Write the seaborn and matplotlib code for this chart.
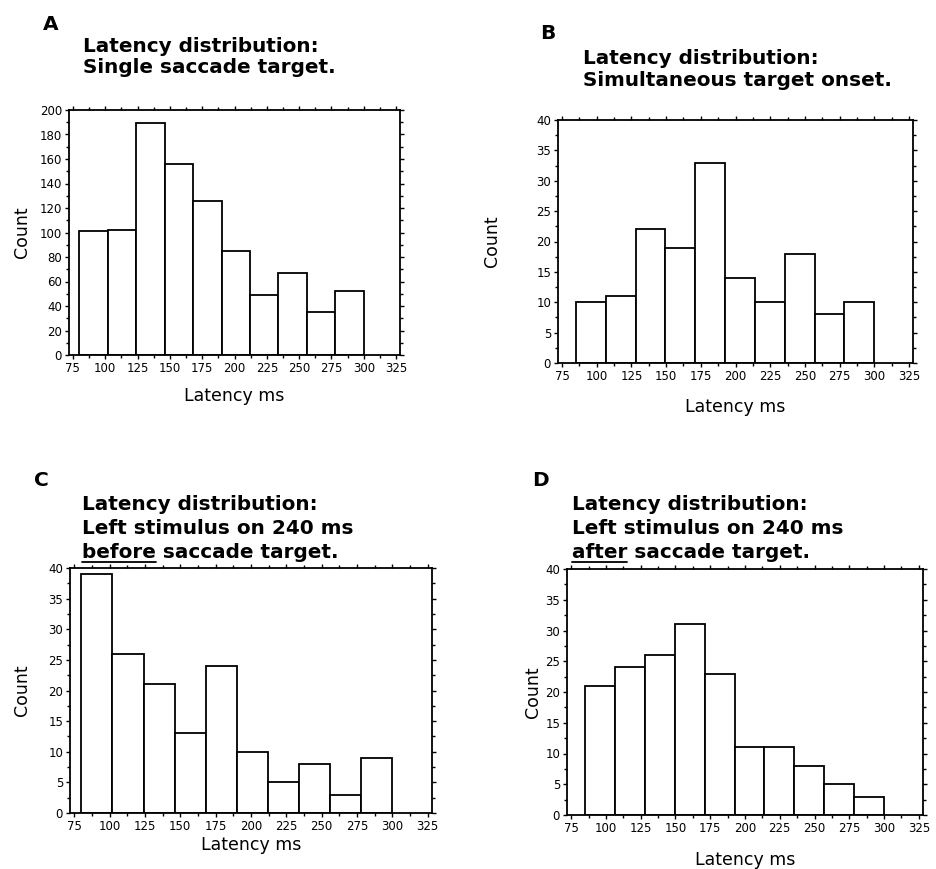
import numpy as np
import pandas as pd
import matplotlib
matplotlib.use("Agg")
import matplotlib.pyplot as plt
import seaborn as sns
from matplotlib.ticker import MultipleLocator
from matplotlib.lines import Line2D

# ---------------- data ----------------
edges_A = [80, 102, 124, 146, 168, 190, 212, 234, 256, 278, 300]
counts_A = [101, 102, 189, 156, 126, 85, 49, 67, 35, 52]

edges_B = [85, 106.5, 128, 149.5, 171, 192.5, 214, 235.5, 257, 278.5, 300]
counts_B = [10, 11, 22, 19, 33, 14, 10, 18, 8, 10]

edges_C = [80, 102, 124, 146, 168, 190, 212, 234, 256, 278, 300]
counts_C = [39, 26, 21, 13, 24, 10, 5, 8, 3, 9]

edges_D = [85, 106.5, 128, 149.5, 171, 192.5, 214, 235.5, 257, 278.5, 300]
counts_D = [21, 24, 26, 31, 23, 11, 11, 8, 5, 3]

x_ticks = [75, 100, 125, 150, 175, 200, 225, 250, 275, 300, 325]
letters = ["A", "B", "C", "D"]
titles = [
    ["Latency distribution:", "Single saccade target."],
    ["Latency distribution:", "Simultaneous target onset."],
    ["Latency distribution:", "Left stimulus on 240 ms", "before saccade target."],
    ["Latency distribution:", "Left stimulus on 240 ms", "after saccade target."],
]
underlined = [None, None, "before", "after"]
x_label = "Latency ms"
y_label = "Count"

# ---------------- layout (pixels) ----------------
W, H = 936, 869
sns.set_style("ticks")
plt.rcParams["font.family"] = ["DejaVu Sans"]
plt.rcParams["text.color"] = "black"
plt.rcParams["axes.labelcolor"] = "black"
plt.rcParams["xtick.color"] = "black"
plt.rcParams["ytick.color"] = "black"
plt.rcParams["axes.edgecolor"] = "black"

fig = plt.figure(figsize=(W / 100, H / 100), dpi=100)
fig.patch.set_facecolor("white")

axes_px = [(69, 110, 400, 355), (558, 120, 913, 363),
           (70, 568, 432, 813), (567, 569, 923, 815)]
ymax = [200, 40, 40, 40]
ymaj = [20, 5, 5, 5]
xlabel_off = [41, 44, 32, 45]
ylabel_off = [47, 66, 48, 34]
letter_pos = [(43, 30), (540, 39), (34, 486), (532, 486)]
title_x = [83, 583, 82, 572]
title_base = [[52, 73], [64, 86], [510, 534, 558], [510, 534, 558]]

data_sets = [(edges_A, counts_A), (edges_B, counts_B),
             (edges_C, counts_C), (edges_D, counts_D)]


def fx(x):
    return x / W


def fy(y):
    return 1 - y / H


for i, ((edges, counts), (x0, yt, x1, yb)) in enumerate(zip(data_sets, axes_px)):
    ax = fig.add_axes([fx(x0), fy(yb), (x1 - x0) / W, (yb - yt) / H])
    centers = [(a + b) / 2 for a, b in zip(edges[:-1], edges[1:])]
    df = pd.DataFrame({"latency": centers, "count": counts})
    sns.histplot(data=df, x="latency", weights="count", bins=edges, ax=ax,
                 color="white", edgecolor="black", linewidth=1.3, alpha=1.0)
    ax.set_xlim(72, 328)
    ax.set_ylim(0, ymax[i])
    ax.set_xticks(x_ticks)
    ax.xaxis.set_minor_locator(MultipleLocator(12.5))
    ax.yaxis.set_major_locator(MultipleLocator(ymaj[i]))
    ax.yaxis.set_minor_locator(MultipleLocator(ymaj[i] / 2))
    ax.tick_params(which="both", direction="out", top=True, right=True,
                   labelsize=8.5, pad=2, width=1, color="black",
                   labelcolor="black")
    ax.tick_params(which="major", length=3)
    ax.tick_params(which="minor", length=2)
    for s in ax.spines.values():
        s.set_visible(True)
        s.set_linewidth(1.3)
        s.set_color("black")
    ax.set_facecolor("white")
    hpx = yb - yt
    wpx = x1 - x0
    ax.set_xlabel(x_label, fontsize=12.5, va="center", color="black")
    ax.xaxis.set_label_coords(0.5, -xlabel_off[i] / hpx)
    ax.set_ylabel(y_label, fontsize=12.5, va="center", color="black")
    ax.yaxis.set_label_coords(-ylabel_off[i] / wpx, 0.5)

    # panel letter and title
    lx, ly = letter_pos[i]
    fig.text(fx(lx), fy(ly), letters[i], fontsize=14.5, fontweight="bold",
             ha="left", va="baseline", color="black")
    for line, yb_ in zip(titles[i], title_base[i]):
        fig.text(fx(title_x[i]), fy(yb_), line, fontsize=14.4,
                 fontweight="bold", ha="left", va="baseline", color="black")
    if underlined[i]:
        ytxt = title_base[i][-1]
        probe = fig.text(fx(title_x[i]), fy(ytxt), underlined[i], fontsize=14.4,
                         fontweight="bold", ha="left", va="baseline", alpha=0)
        fig.canvas.draw()
        bb = probe.get_window_extent(renderer=fig.canvas.get_renderer())
        uy = fy(ytxt + 4)
        fig.add_artist(Line2D([bb.x0 / W, bb.x1 / W], [uy, uy], color="black",
                              linewidth=1.3, transform=fig.transFigure))

fig.savefig("out.png", dpi=100, facecolor="white")
